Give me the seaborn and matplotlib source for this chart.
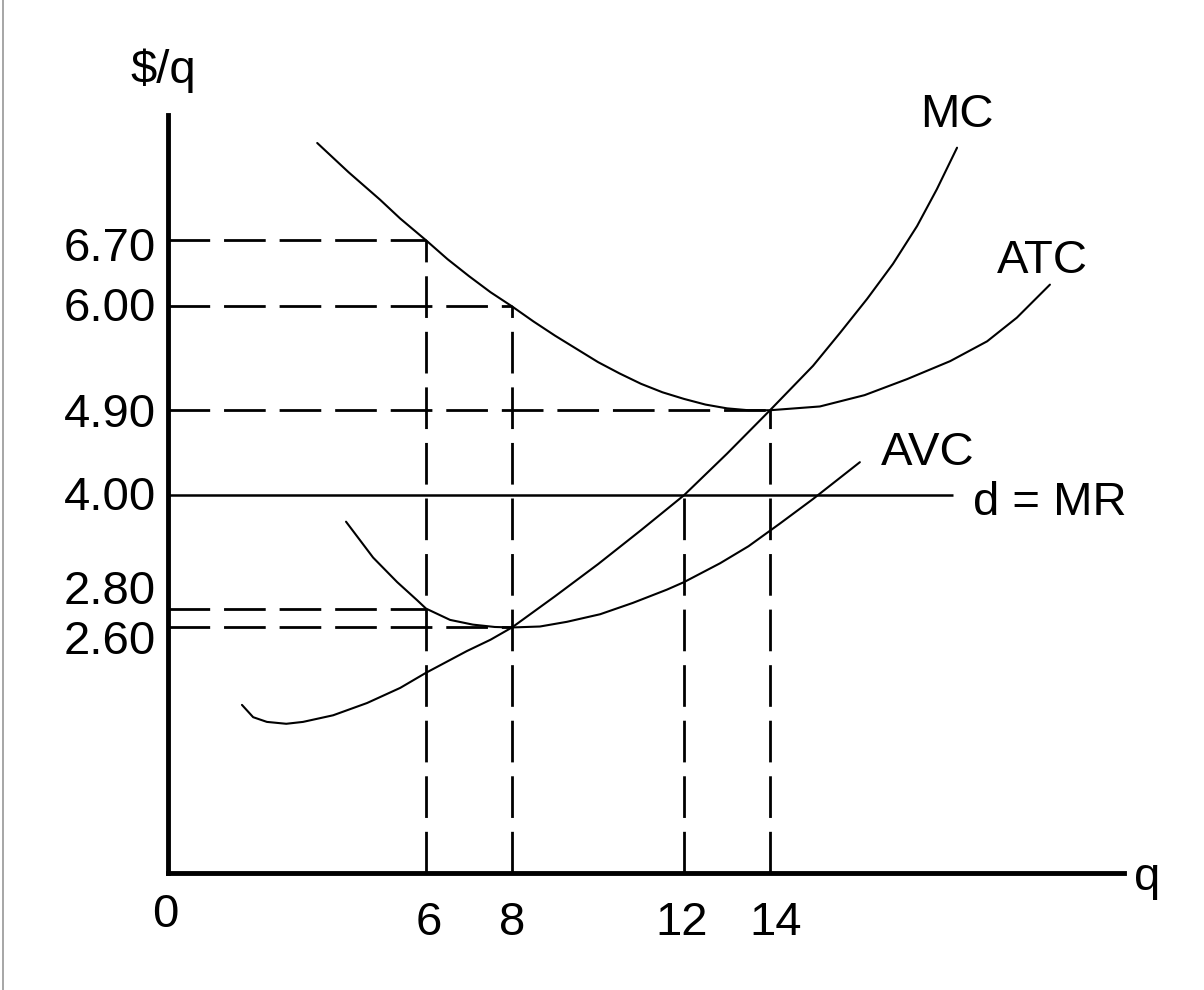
import matplotlib
matplotlib.use("Agg")
import matplotlib.pyplot as plt
import seaborn as sns

# quantity / price ticks shown on the axes
q_ticks = [0, 6, 8, 12, 14]
q_labels = ["0", "6", "8", "12", "14"]
price_ticks = [6.70, 6.00, 4.90, 4.00, 2.80, 2.60]
price_labels = ["6.70", "6.00", "4.90", "4.00", "2.80", "2.60"]

# cost curves
mc_q = [1.72, 1.98, 2.30, 2.75, 3.14, 3.84, 4.63, 5.40, 6.0, 6.95, 7.5, 8.0,
        9.0, 10.0, 11.0, 12.0, 13.0, 14.0, 15.0, 15.63, 16.26, 16.86, 17.42,
        17.88, 18.35]
mc_p = [1.78, 1.65, 1.60, 1.58, 1.60, 1.67, 1.80, 1.96, 2.12, 2.35, 2.47, 2.60,
        2.93, 3.27, 3.63, 4.00, 4.44, 4.90, 5.37, 5.72, 6.08, 6.45, 6.85,
        7.24, 7.68]

atc_q = [3.47, 4.2, 4.93, 5.4, 6.0, 6.5, 7.0, 7.5, 8.0, 8.5, 9.0, 9.5, 10.0,
         10.5, 11.0, 11.5, 12.0, 12.5, 13.0, 13.5, 14.0, 15.16, 16.2, 17.19,
         18.19, 19.05, 19.74, 20.51]
atc_p = [7.73, 7.42, 7.13, 6.93, 6.70, 6.50, 6.32, 6.15, 6.00, 5.84, 5.69,
         5.55, 5.41, 5.29, 5.18, 5.09, 5.02, 4.96, 4.92, 4.90, 4.90, 4.94,
         5.06, 5.23, 5.42, 5.63, 5.88, 6.23]

avc_q = [4.14, 4.77, 5.33, 5.79, 6.0, 6.56, 7.09, 7.6, 8.0, 8.65, 9.28, 10.05,
         10.81, 11.6, 12.0, 12.84, 13.5, 14.23, 15.0, 16.09]
avc_p = [3.72, 3.34, 3.08, 2.89, 2.80, 2.68, 2.63, 2.605, 2.60, 2.61, 2.66,
         2.74, 2.86, 3.00, 3.08, 3.28, 3.46, 3.70, 3.96, 4.35]

# demand = marginal revenue
mr_price = 4.00
mr_q_end = 18.26

# dashed guides: horizontal (price, up to q) and vertical (q, up to price)
h_guides = [(6.70, 6), (6.00, 8), (4.90, 14), (2.80, 6), (2.60, 8)]
v_guides = [(6, 6.70), (8, 6.00), (12, 4.00), (14, 4.90)]

# pixel layout of the original picture
W, H = 1204, 990
X0, Y0 = 168, 873          # origin in pixels
SX, SY = 43.0, 94.44       # pixels per unit

sns.set_theme(style="white")
plt.rcParams["font.family"] = ["Liberation Sans", "DejaVu Sans"]

fig = plt.figure(figsize=(W / 100, H / 100), dpi=100)
ax = fig.add_axes([0, 0, 1, 1])
ax.set_xlim(-X0 / SX, (W - X0) / SX)
ax.set_ylim((Y0 - H) / SY, Y0 / SY)

for side in ["top", "right"]:
    ax.spines[side].set_visible(False)
for side in ["left", "bottom"]:
    ax.spines[side].set_position(("data", 0))
    ax.spines[side].set_linewidth(3.5)
    ax.spines[side].set_color("black")
ax.spines["left"].set_bounds(0, 8.03)
ax.spines["bottom"].set_bounds(0, 22.23)
ax.set_xticks([])
ax.set_yticks([])
ax.set_facecolor("white")

# grey frame line at the far left
ax.axvline((3 - X0) / SX, color="#a6a6a6", lw=1.4)

dash = (0, (15, 5))
for p, q in h_guides:
    ax.hlines(p, 0, q, colors="black", linestyles=dash, lw=2.0)
for q, p in v_guides:
    ax.vlines(q, 0, p, colors="black", linestyles=dash, lw=2.0)

ax.hlines(mr_price, 0, mr_q_end, colors="black", lw=1.8)

for qs, ps in [(mc_q, mc_p), (atc_q, atc_p), (avc_q, avc_p)]:
    sns.lineplot(x=qs, y=ps, ax=ax, color="black", lw=1.5, sort=False,
                 estimator=None)

fs = 34
# price labels: (offset of glyph centre from its line, in pixels)
price_shift = [4, -2, 0, -2, -22, 10]
for p, lab, d in zip(price_ticks, price_labels, price_shift):
    ax.annotate(lab, xy=(0, p), xytext=(-12, -(d + 17)),
                textcoords="offset pixels", ha="right", va="baseline",
                fontsize=fs, color="black")

q_shift = [(-3, -54), (3, -62), (0, -62), (-2, -62), (6, -62)]
for q, lab, (dx, dy) in zip(q_ticks, q_labels, q_shift):
    ax.annotate(lab, xy=(q, 0), xytext=(dx, dy), textcoords="offset pixels",
                ha="center", va="baseline", fontsize=fs, color="black")

ax.text((163 - X0) / SX, (Y0 - 71) / SY, "$/q", ha="center", va="center",
        fontsize=fs, color="black")
ax.text((1147 - X0) / SX, (Y0 - 890) / SY, "q", ha="center", va="baseline",
        fontsize=fs, color="black")
ax.text((957 - X0) / SX, (Y0 - 127) / SY, "MC", ha="center", va="baseline",
        fontsize=fs, color="black")
ax.text((1042 - X0) / SX, (Y0 - 273) / SY, "ATC", ha="center", va="baseline",
        fontsize=fs, color="black")
ax.text((928 - X0) / SX, (Y0 - 465) / SY, "AVC", ha="center", va="baseline",
        fontsize=fs, color="black")
ax.text((973 - X0) / SX, (Y0 - 515) / SY, "d = MR", ha="left", va="baseline",
        fontsize=fs, color="black")

fig.savefig("out.png", dpi=100, facecolor="white")
